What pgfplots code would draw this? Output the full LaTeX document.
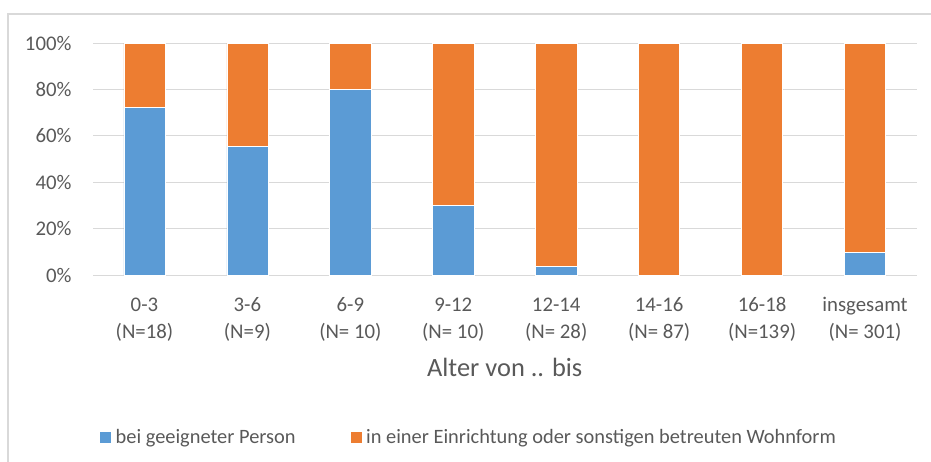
\documentclass[border=0pt]{standalone}
\usepackage{pgfplots}
\pgfplotsset{compat=1.18}
\usepackage{fontspec}
\setmainfont{Carlito}
\definecolor{cblue}{HTML}{5B9BD5}
\definecolor{corange}{HTML}{ED7D31}
\definecolor{ctext}{HTML}{595959}
\definecolor{cgrid}{HTML}{D9D9D9}
\begin{document}
\begin{tikzpicture}[x=1pt,y=1pt]
\useasboundingbox (0,0) rectangle (931,-461);
\draw[cgrid, line width=1.3pt] (8,-480) -- (8,-14) -- (950,-14);
\begin{axis}[
  at={(93pt,-275pt)}, anchor=south west,
  scale only axis, width=823.5pt, height=232pt,
  ybar stacked, bar width=0.4,
  xmin=-0.5, xmax=7.5, ymin=0, ymax=100,
  xtick={0,...,7},
  xticklabels={{0-3\\(N=18)},{3-6\\(N=9)},{6-9\\(N= 10)},{9-12\\(N= 10)},{12-14\\(N= 28)},{14-16\\(N= 87)},{16-18\\(N=139)},{insgesamt\\(N= 301)}},
  xticklabel style={align=center, font=\fontsize{20.8}{27}\selectfont, text=ctext, yshift=-19pt},
  ytick={0,20,...,100},
  yticklabel={\pgfmathprintnumber{\tick}\%},
  yticklabel style={font=\fontsize{20.8}{24}\selectfont, text=ctext, xshift=-18pt},
  /pgf/number format/assume math mode=true,
  axis line style={draw=none},
  major tick length=0pt,
  ymajorgrids, grid style={cgrid, line width=1pt},
  xlabel={Alter von .. bis},
  xlabel style={at={(axis description cs:0.5,-0.397)}, anchor=center, font=\fontsize{26.4}{30}\selectfont, text=ctext},
  legend columns=2,
  legend style={at={(axis description cs:0.456,-0.698)}, anchor=center, draw=none, fill=none,
    font=\fontsize{20.4}{24}\selectfont, text=ctext,
    /tikz/every even column/.append style={column sep=52pt}},
  legend image code/.code={\fill[#1] (0pt,-6pt) rectangle (12pt,6pt); \path (14pt,0pt);},
]
\addplot[fill=cblue, draw=white, line width=0.6pt] coordinates {(0,72.2) (1,55.6) (2,80) (3,30) (4,3.6) (5,0) (6,0) (7,9.6)};
\addlegendentry{bei geeigneter Person}
\addplot[fill=corange, draw=white, line width=0.6pt] coordinates {(0,27.8) (1,44.4) (2,20) (3,70) (4,96.4) (5,100) (6,100) (7,90.4)};
\addlegendentry{in einer Einrichtung oder sonstigen betreuten Wohnform}
\end{axis}
\end{tikzpicture}
\end{document}
